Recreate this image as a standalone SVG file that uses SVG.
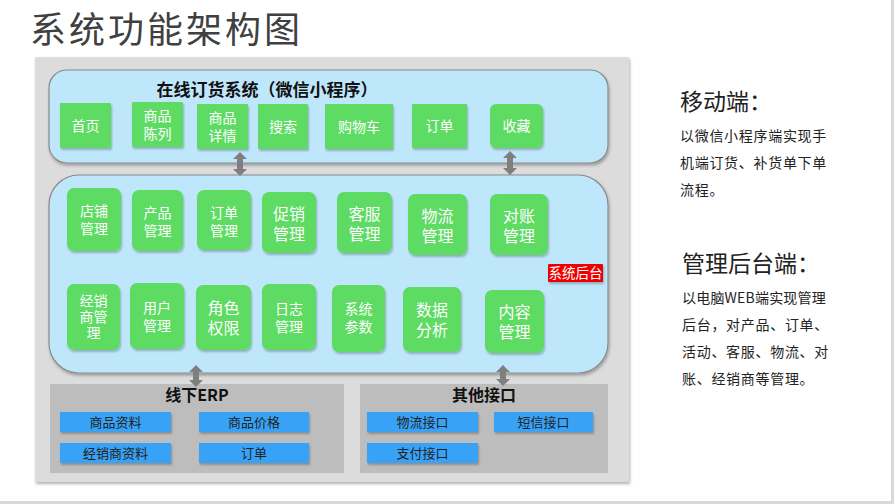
<svg xmlns="http://www.w3.org/2000/svg" width="894" height="504" viewBox="0 0 894 504">
<defs>
<filter id="sh" x="-20%" y="-20%" width="150%" height="150%">
<feDropShadow dx="1" dy="2" stdDeviation="1.2" flood-color="#000" flood-opacity="0.25"/>
</filter>
<filter id="sh2" x="-5%" y="-5%" width="110%" height="110%">
<feDropShadow dx="1" dy="2" stdDeviation="1.5" flood-color="#000" flood-opacity="0.3"/>
</filter>
</defs>
<style>
.g{fill:#5ddb63;filter:url(#sh)}
.gt{font-family:"Liberation Sans","Noto Sans CJK SC",sans-serif;fill:#fff;text-anchor:middle;font-size:14px}
.gt2{font-family:"Liberation Sans","Noto Sans CJK SC",sans-serif;fill:#fff;text-anchor:middle;font-size:16px}
.b{fill:#39a2f7;filter:url(#sh)}
.bt{font-family:"Noto Sans CJK SC",sans-serif;fill:#222;text-anchor:middle;font-size:13px}
.blue{fill:#bfe7fc;stroke:#8a8a8a;stroke-width:1.2;filter:url(#sh2)}
.h{font-family:"Noto Sans CJK SC",sans-serif;font-weight:bold;fill:#111;text-anchor:middle}
.arr{fill:#7f7f7f}
.rt{font-family:"Noto Sans CJK SC",sans-serif;fill:#222}
</style>
<rect width="894" height="504" fill="#fff"/>
<rect x="891" y="0" width="3" height="504" fill="#d9d9d9"/>
<rect x="0" y="501" width="894" height="3" fill="#d9d9d9"/>
<text x="30" y="43" font-size="36" letter-spacing="3" fill="#404040" font-family="Noto Sans CJK SC,sans-serif">系统功能架构图</text>
<g id="panel">
<rect x="35" y="57" width="594" height="425" fill="#dcdcdc" filter="url(#sh2)"/>
</g>
<g id="mobile">
<rect class="blue" x="49" y="70" width="559" height="93" rx="18"/>
<text class="h" x="267" y="96" font-size="17">在线订货系统（微信小程序）</text>
</g>
<g id="backend">
<rect class="blue" x="49" y="175" width="559" height="198" rx="30"/>
</g>
<g id="n-home"><rect class="g" x="60" y="103" width="51" height="45" rx="1"/><text class="gt" x="85.5" y="131">首页</text></g>
<g id="n-list"><rect class="g" x="132" y="102" width="51" height="45" rx="1"/><text class="gt" x="157.5" y="121">商品<tspan x="157.5" dy="18">陈列</tspan></text></g>
<g id="n-detail"><rect class="g" x="197" y="104" width="51" height="45" rx="1"/><text class="gt" x="222.5" y="123">商品<tspan x="222.5" dy="18">详情</tspan></text></g>
<g id="n-search"><rect class="g" x="258" y="104" width="50" height="45" rx="1"/><text class="gt" x="283" y="132">搜索</text></g>
<g id="n-cart"><rect class="g" x="325" y="104" width="68" height="45" rx="1"/><text class="gt" x="359" y="132">购物车</text></g>
<g id="n-order"><rect class="g" x="412" y="104" width="55" height="44" rx="1"/><text class="gt" x="439.5" y="131">订单</text></g>
<g id="n-fav"><rect class="g" x="490" y="104" width="53" height="44" rx="6"/><text class="gt" x="516.5" y="131">收藏</text></g>

<g id="m-shop"><rect class="g" x="67" y="188" width="54" height="63" rx="7"/><text class="gt" x="94" y="216">店铺<tspan x="94" dy="18">管理</tspan></text></g>
<g id="m-product"><rect class="g" x="132" y="190" width="51" height="61" rx="7"/><text class="gt" x="157.5" y="218">产品<tspan x="157.5" dy="18">管理</tspan></text></g>
<g id="m-order"><rect class="g" x="197" y="190" width="54" height="60" rx="7"/><text class="gt" x="224" y="218">订单<tspan x="224" dy="18">管理</tspan></text></g>
<g id="m-promo"><rect class="g" x="262" y="192" width="54" height="61" rx="7"/><text class="gt2" x="289" y="220">促销<tspan x="289" dy="20">管理</tspan></text></g>
<g id="m-service"><rect class="g" x="337" y="192" width="55" height="61" rx="7"/><text class="gt2" x="364.5" y="220">客服<tspan x="364.5" dy="20">管理</tspan></text></g>
<g id="m-logistics"><rect class="g" x="408" y="194" width="59" height="61" rx="7"/><text class="gt2" x="437.5" y="222">物流<tspan x="437.5" dy="20">管理</tspan></text></g>
<g id="m-account"><rect class="g" x="490" y="194" width="58" height="61" rx="7"/><text class="gt2" x="519" y="222">对账<tspan x="519" dy="20">管理</tspan></text></g>

<g id="m-dealer"><rect class="g" x="67" y="284" width="53" height="66" rx="7"/><text class="gt" x="93.5" y="306">经销<tspan x="93.5" dy="16">商管</tspan><tspan x="93.5" dy="16">理</tspan></text></g>
<g id="m-user"><rect class="g" x="130" y="283" width="54" height="66" rx="7"/><text class="gt" x="157" y="313">用户<tspan x="157" dy="18">管理</tspan></text></g>
<g id="m-role"><rect class="g" x="196" y="285" width="55" height="65" rx="7"/><text class="gt2" x="223.5" y="314">角色<tspan x="223.5" dy="20">权限</tspan></text></g>
<g id="m-log"><rect class="g" x="262" y="284" width="54" height="66" rx="7"/><text class="gt" x="289" y="314">日志<tspan x="289" dy="18">管理</tspan></text></g>
<g id="m-param"><rect class="g" x="332" y="285" width="53" height="67" rx="7"/><text class="gt" x="358.5" y="314">系统<tspan x="358.5" dy="18">参数</tspan></text></g>
<g id="m-data"><rect class="g" x="403" y="287" width="58" height="65" rx="7"/><text class="gt2" x="432" y="316">数据<tspan x="432" dy="20">分析</tspan></text></g>
<g id="m-content"><rect class="g" x="485" y="290" width="59" height="63" rx="7"/><text class="gt2" x="514.5" y="318">内容<tspan x="514.5" dy="20">管理</tspan></text></g>

<g id="label-backend"><rect x="548" y="264" width="55" height="18" rx="1" fill="#ee0000" filter="url(#sh)"/><text x="575.5" y="278" font-size="13.5" fill="#fff" text-anchor="middle" font-family="Noto Sans CJK SC,sans-serif">系统后台</text></g>

<g id="erp">
<rect x="50" y="384" width="294" height="89" fill="#bdbdbd"/>
<text class="h" x="197" y="401" font-size="16">线下ERP</text>
</g>
<g id="other">
<rect x="360" y="384" width="248" height="89" fill="#bdbdbd"/>
<text class="h" x="484" y="401" font-size="16">其他接口</text>
</g>
<g id="e-goods"><rect class="b" x="60" y="412" width="111" height="20"/><text class="bt" x="115.5" y="427">商品资料</text></g>
<g id="e-price"><rect class="b" x="199" y="412" width="110" height="20"/><text class="bt" x="254" y="427">商品价格</text></g>
<g id="e-dealer"><rect class="b" x="60" y="443" width="111" height="20"/><text class="bt" x="115.5" y="458">经销商资料</text></g>
<g id="e-order"><rect class="b" x="199" y="443" width="110" height="20"/><text class="bt" x="254" y="458">订单</text></g>
<g id="o-logistics"><rect class="b" x="367" y="412" width="111" height="20"/><text class="bt" x="422.5" y="427">物流接口</text></g>
<g id="o-sms"><rect class="b" x="494" y="412" width="99" height="20"/><text class="bt" x="543.5" y="427">短信接口</text></g>
<g id="o-pay"><rect class="b" x="367" y="443" width="111" height="20"/><text class="bt" x="422.5" y="458">支付接口</text></g>

<g id="connectors">
<path class="arr" d="M240,152 L247,159 L243,159 L243,169 L247,169 L240,176 L233,169 L237,169 L237,159 L233,159 Z"/>
<path class="arr" d="M510,151 L517,158 L513,158 L513,168 L517,168 L510,175 L503,168 L507,168 L507,158 L503,158 Z"/>
<path class="arr" d="M196,365 L203,372 L199,372 L199,380 L203,380 L196,387 L189,380 L193,380 L193,372 L189,372 Z"/>
<path class="arr" d="M503,365 L510,372 L506,372 L506,379 L510,379 L503,386 L496,379 L500,379 L500,372 L496,372 Z"/>
</g>

<g id="notes">
<text class="rt" x="680" y="110" font-size="23">移动端：</text>
<text class="rt" x="680" y="141" font-size="14" letter-spacing="0.7">以微信小程序端实现手</text>
<text class="rt" x="680" y="168" font-size="14" letter-spacing="0.7">机端订货、补货单下单</text>
<text class="rt" x="680" y="195" font-size="14" letter-spacing="0.7">流程。</text>
<text class="rt" x="682" y="272" font-size="23">管理后台端：</text>
<text class="rt" x="682" y="303" font-size="14" letter-spacing="0.2">以电脑WEB端实现管理</text>
<text class="rt" x="682" y="330" font-size="14" letter-spacing="0.7">后台，对产品、订单、</text>
<text class="rt" x="682" y="357" font-size="14" letter-spacing="0.7">活动、客服、物流、对</text>
<text class="rt" x="682" y="384" font-size="14" letter-spacing="0.7">账、经销商等管理。</text>
</g>
</svg>
